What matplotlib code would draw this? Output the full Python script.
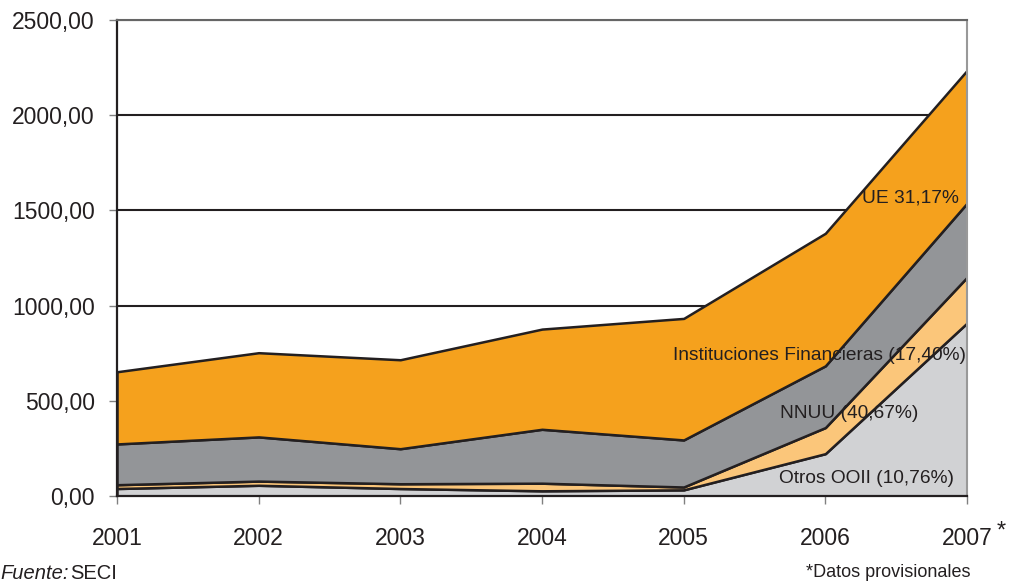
import matplotlib.pyplot as plt
from matplotlib.ticker import FuncFormatter

plt.rcParams['font.family'] = ['Liberation Sans', 'DejaVu Sans']

years = [2001, 2002, 2003, 2004, 2005, 2006, 2007]
year_labels = ['2001', '2002', '2003', '2004', '2005', '2006', '2007']
nnuu = [40, 57, 40, 28, 33, 223, 909]
otros = [20, 22, 25, 40, 15, 137, 240]
inst_fin = [214, 232, 184, 283, 247, 324, 389]
ue = [379, 442, 467, 526, 638, 696, 697]

colors = ['#d1d2d4', '#fbc67a', '#939598', '#f5a11d']

fig = plt.figure(figsize=(10.11, 5.83), dpi=100)
ax = fig.add_axes([0.1157, 0.149, 0.8408, 0.8168])

ax.stackplot(years, nnuu, otros, inst_fin, ue, colors=colors,
             edgecolor='#231f20', linewidth=1.8, zorder=3)

ax.set_xlim(2001, 2007)
ax.set_ylim(0, 2500)
ax.set_yticks(range(0, 2501, 500))
ax.yaxis.set_major_formatter(FuncFormatter(lambda v, p: f'{v:.2f}'.replace('.', ',')))
ax.set_xticks(years)
ax.set_xticklabels(year_labels)
ax.grid(axis='y', color='#231f20', linewidth=1.5, zorder=1)

ax.tick_params(axis='both', colors='#808080', length=6, width=1,
               labelcolor='#231f20', labelsize=16.5)
ax.tick_params(axis='x', pad=16)
ax.tick_params(axis='y', pad=10)

ax.spines['left'].set_color('#231f20')
ax.spines['left'].set_linewidth(1.6)
ax.spines['bottom'].set_color('#231f20')
ax.spines['bottom'].set_linewidth(1.6)
ax.spines['top'].set_color('#666666')
ax.spines['top'].set_linewidth(1.5)
ax.spines['right'].set_color('#999999')
ax.spines['right'].set_linewidth(1.5)
for s in ax.spines.values():
    s.set_zorder(5)

# series labels inside the areas
lbl = dict(fontsize=13.8, color='#231f20', ha='right', va='center', zorder=6)
ax.text(2006.94, 1565, 'UE 31,17%', **lbl)
ax.text(2006.99, 740, 'Instituciones Financieras (17,40%)', **lbl)
ax.text(2006.66, 435, 'NNUU (40,67%)', **lbl)
ax.text(2006.91, 95, 'Otros OOII (10,76%)', **lbl)

fig.text(0.986, 0.088, '*', fontsize=17, color='#231f20', ha='left', va='center')
fig.text(0.0, 0.0, 'Fuente:', fontsize=14.5, style='italic', color='#231f20', ha='left', va='bottom')
fig.text(0.069, 0.0, 'SECI', fontsize=14.5, color='#231f20', ha='left', va='bottom')
fig.text(0.96, 0.003, '*Datos provisionales', fontsize=13, color='#231f20', ha='right', va='bottom')

fig.savefig('out.png', dpi=100)
